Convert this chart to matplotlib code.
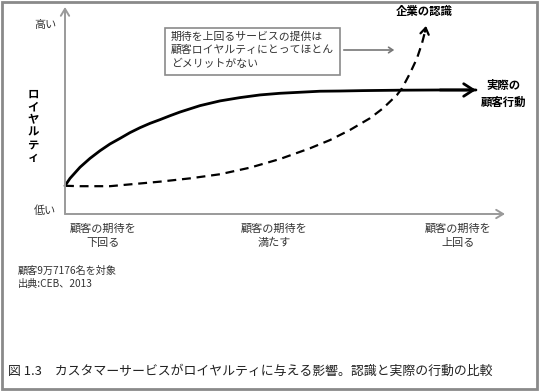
import matplotlib
matplotlib.use("Agg")
import matplotlib.pyplot as plt
from matplotlib.patches import Rectangle, FancyArrowPatch

plt.rcParams['font.family'] = ['Noto Sans CJK JP', 'DejaVu Sans']

# ---- data (chart units: x 0-100 = expectation, y 0-100 = loyalty) ----
actual_x = [0, 1.14, 3.41, 5.68, 7.95, 10.23, 12.5, 14.77, 17.05, 19.32, 21.59, 23.86, 26.14,
            30.68, 35.23, 39.77, 44.32, 48.86, 53.41, 57.95, 62.5, 67.73, 76.14, 85.23, 93.4]
actual_y = [13.7, 17.3, 22.7, 27.0, 30.7, 34.0, 36.7, 39.5, 41.9, 44.0, 45.8, 47.7, 49.5,
            52.6, 54.9, 56.5, 57.8, 58.6, 59.1, 59.6, 59.7, 59.9, 60.1, 60.2, 60.2]
perceived_x = [0, 3.41, 10.23, 15.91, 21.59, 28.41, 35.23, 42.05, 48.86, 55.68, 60.23, 64.77,
               69.32, 72.27, 75.45, 76.59, 78.41, 80.0, 81.14, 81.82, 82.05]
perceived_y = [13.7, 13.5, 13.5, 14.6, 15.7, 17.3, 19.3, 22.5, 26.7, 31.9, 35.9, 40.8,
               46.5, 51.3, 57.8, 61.0, 68.3, 75.6, 82.9, 88.5, 91.3]

x_tick_pos = [8.6, 47.5, 89.3]
x_tick_labels = ["顧客の期待を\n下回る", "顧客の期待を\n満たす", "顧客の期待を\n上回る"]
y_tick_labels = ["低い", "高い"]
y_label = "ロイヤルティ"
actual_label = "実際の\n顧客行動"
perceived_label = "企業の認識"
callout = "期待を上回るサービスの提供は\n顧客ロイヤルティにとってほとん\nどメリットがない"
notes = ["顧客9万7176名を対象", "出典:CEB、2013"]
caption = "図 1.3　カスタマーサービスがロイヤルティに与える影響。認識と実際の行動の比較"

W, H = 539, 391
fig = plt.figure(figsize=(W / 100, H / 100), dpi=100)

def fx(px):
    return px / W

def fy(py):
    return 1 - py / H

# outer border
fig.patches.append(Rectangle((fx(2), fy(389)), fx(535), 387 / H, transform=fig.transFigure,
                             fill=False, edgecolor='#8a8a8a', lw=2))

ax = fig.add_axes([fx(65), fy(214), fx(440), 206 / H])
ax.set_xlim(0, 100)
ax.set_ylim(0, 100)
ax.axis('off')

axis_col = '#9a9a9a'
# axes with arrow heads
ax.annotate('', xy=(0, 100.5), xytext=(0, 0), annotation_clip=False,
            arrowprops=dict(arrowstyle='->,head_length=0.5,head_width=0.3', color=axis_col, lw=1.4,
                            shrinkA=0, shrinkB=0))
ax.annotate('', xy=(100, 0), xytext=(0, 0), annotation_clip=False,
            arrowprops=dict(arrowstyle='->,head_length=0.5,head_width=0.3', color=axis_col, lw=1.4,
                            shrinkA=0, shrinkB=0))

# actual behaviour curve
ax.plot(actual_x, actual_y, color='black', lw=2.0, solid_capstyle='round',
        solid_joinstyle='round', clip_on=False)
ax.annotate('', xy=(actual_x[-1], actual_y[-1]), xytext=(actual_x[-2], actual_y[-1]),
            annotation_clip=False,
            arrowprops=dict(arrowstyle='->,head_length=0.7,head_width=0.45', color='black', lw=2.0,
                            shrinkA=0, shrinkB=0))

# perceived curve
ax.plot(perceived_x[:-1], perceived_y[:-1], color='black', lw=1.6, dashes=(4, 2.6), clip_on=False)
ax.annotate('', xy=(perceived_x[-1], perceived_y[-1]), xytext=(perceived_x[-2], perceived_y[-2]),
            annotation_clip=False,
            arrowprops=dict(arrowstyle='->,head_length=0.45,head_width=0.3', color='black', lw=1.6,
                            shrinkA=0, shrinkB=0))

txt_col = '#333333'
# x tick labels
for xp, lab in zip(x_tick_pos, x_tick_labels):
    ax.text(xp, -4.5, lab, ha='center', va='top', fontsize=8,
            color=txt_col, linespacing=1.55)

# y-end labels
fig.text(fx(45), fy(211), y_tick_labels[0], ha='center', va='center', fontsize=8, color=txt_col)
fig.text(fx(45), fy(25), y_tick_labels[1], ha='center', va='center', fontsize=8, color=txt_col)

# vertical axis title
fig.text(fx(33), fy(126), "\n".join(y_label), ha='center', va='center', fontsize=8.2,
         fontweight='bold', color='black', linespacing=0.98)

# series labels
fig.text(fx(424), fy(12), perceived_label, ha='center', va='center', fontsize=8.2,
         fontweight='bold', color='black')
fig.text(fx(504), fy(94), actual_label, ha='center', va='center', fontsize=8.2,
         fontweight='bold', color='black', linespacing=1.35)

# callout box
fig.patches.append(Rectangle((fx(165), fy(75)), fx(175), 47 / H, transform=fig.transFigure,
                             fill=True, facecolor='white', edgecolor='#8a8a8a', lw=1.2))
fig.text(fx(171), fy(50), callout, ha='left', va='center', fontsize=7.8, color=txt_col,
         linespacing=1.4)
fig.add_artist(FancyArrowPatch(
    (fx(341), fy(50)), (fx(397), fy(50)), transform=fig.transFigure,
    arrowstyle='->,head_length=3,head_width=2', color='#777777', lw=1.2))

# notes
fig.text(fx(18), fy(271), notes[0], ha='left', va='center', fontsize=7.3, color=txt_col)
fig.text(fx(18), fy(284), notes[1], ha='left', va='center', fontsize=7.3, color=txt_col)

# caption
fig.text(fx(8), fy(371), caption, ha='left', va='center', fontsize=9.3, color='#222222')

fig.savefig('out.png', dpi=100, facecolor='white')
